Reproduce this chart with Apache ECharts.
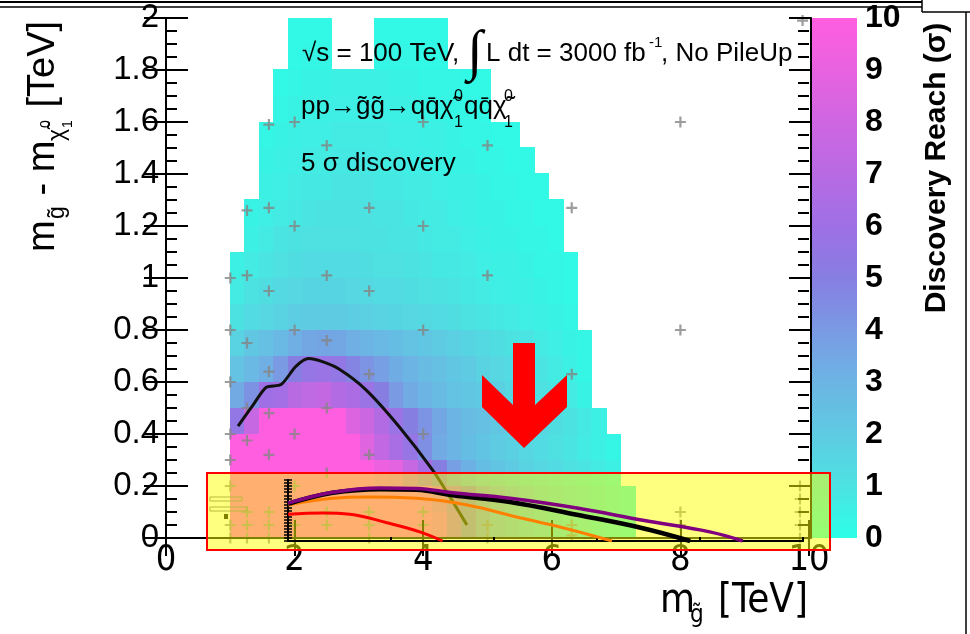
<!DOCTYPE html>
<html>
<head>
<meta charset="utf-8">
<script src="https://cdn.jsdelivr.net/npm/echarts@6/dist/echarts.min.js"></script>
<style>
  html, body { margin: 0; padding: 0; background: #fff; }
  #chart { width: 970px; height: 634px; }
</style>
</head>
<body>
<div id="chart"></div>
<script>
// histogram binning (TeV)
const binStartX = 1.0
const binWidthX = 0.225
const binHeightY = 0.1

// first filled x bin of each row, row 0 = 0.0-0.1 TeV
const rowFirstBin = [0, 0, 0, 0, 0, 0, 0, 0, 0, 0, 0, 1, 1, 2, 2, 2, 3, 3, 4, 4]

// discovery reach (sigma), one list per row, starting at rowFirstBin
const reachRows = [
  [10, 10, 10, 10, 10, 10, 10, 10, 10, 10, 10, 10, 10, 10, 9.0, 7.0, 5.0, 4.0, 3.2, 2.7, 2.3, 1.9, 1.6, 1.3, 1.1, 0.8, 0.6, 0.4],
  [10, 10, 10, 10, 10, 10, 10, 10, 10, 10, 10, 10, 10, 9.5, 8.5, 6.5, 5.0, 4.0, 3.3, 2.8, 2.4, 2.0, 1.7, 1.4, 1.2, 0.9, 0.7, 0.5],
  [10, 10, 10, 10, 10, 10, 10, 10, 10, 10, 9.2, 8.8, 7.6, 6.2, 5.0, 3.8, 3.1, 2.6, 2.3, 2.0, 1.7, 1.5, 1.3, 1.1, 0.9, 0.7, 0.5],
  [10, 10, 10, 10, 10, 10, 10, 10, 10, 8.6, 7.4, 6.4, 5.6, 4.4, 3.4, 3.0, 2.6, 2.3, 2.0, 1.8, 1.5, 1.3, 1.1, 0.9, 0.7, 0.5, 0.3],
  [5.5, 7.6, 10, 10, 10, 10, 10, 10, 8.5, 7.8, 6.8, 5.8, 5.0, 4.2, 3.5, 3.0, 2.7, 2.5, 2.2, 2.0, 1.7, 1.5, 1.2, 1.0, 0.8, 0.5],
  [3.4, 4.3, 6.0, 6.2, 7.0, 7.3, 7.5, 6.8, 6.5, 5.8, 5.0, 4.0, 3.4, 3.0, 2.7, 2.4, 2.2, 2.0, 1.8, 1.5, 1.3, 1.1, 0.9, 0.7, 0.4],
  [2.4, 2.8, 3.2, 4.0, 5.0, 5.6, 5.8, 5.5, 4.8, 4.2, 3.8, 3.3, 3.0, 2.7, 2.5, 2.2, 2.0, 1.7, 1.5, 1.3, 1.1, 0.9, 0.7, 0.5, 0.3],
  [1.7, 2.2, 2.5, 2.8, 3.2, 3.5, 3.6, 3.5, 3.2, 3.0, 2.8, 2.6, 2.4, 2.2, 2.0, 1.8, 1.6, 1.4, 1.2, 1.0, 0.9, 0.7, 0.6, 0.4, 0.3],
  [1.0, 1.3, 1.5, 1.7, 1.9, 2.0, 2.0, 2.0, 1.9, 1.8, 1.7, 1.6, 1.5, 1.4, 1.3, 1.2, 1.0, 0.9, 0.8, 0.7, 0.6, 0.5, 0.4, 0.3],
  [0.7, 1.0, 1.2, 1.4, 1.5, 1.6, 1.6, 1.6, 1.5, 1.4, 1.3, 1.3, 1.2, 1.1, 1.0, 0.9, 0.8, 0.7, 0.6, 0.5, 0.5, 0.4, 0.3, 0.2],
  [0.5, 0.7, 0.9, 1.1, 1.2, 1.3, 1.3, 1.3, 1.3, 1.2, 1.1, 1.1, 1.0, 0.9, 0.8, 0.8, 0.7, 0.6, 0.5, 0.5, 0.4, 0.3, 0.3, 0.2],
  [0.5, 0.7, 0.9, 1.0, 1.1, 1.1, 1.1, 1.1, 1.0, 1.0, 0.9, 0.9, 0.8, 0.7, 0.7, 0.6, 0.5, 0.4, 0.4, 0.3, 0.3, 0.2],
  [0.4, 0.6, 0.7, 0.8, 0.9, 1.0, 1.0, 1.0, 1.0, 0.9, 0.9, 0.8, 0.7, 0.7, 0.6, 0.5, 0.4, 0.4, 0.3, 0.3, 0.2, 0.2],
  [0.5, 0.6, 0.7, 0.8, 0.8, 0.9, 0.9, 0.9, 0.8, 0.8, 0.7, 0.7, 0.6, 0.5, 0.5, 0.4, 0.3, 0.3, 0.2, 0.2],
  [0.4, 0.5, 0.6, 0.7, 0.7, 0.8, 0.8, 0.8, 0.7, 0.7, 0.6, 0.6, 0.5, 0.4, 0.4, 0.3, 0.3, 0.2, 0.2],
  [0.3, 0.4, 0.5, 0.6, 0.6, 0.7, 0.7, 0.7, 0.7, 0.6, 0.6, 0.5, 0.5, 0.4, 0.3, 0.3, 0.2, 0.2],
  [0.3, 0.4, 0.5, 0.5, 0.6, 0.6, 0.6, 0.6, 0.5, 0.5, 0.4, 0.4, 0.3, 0.3, 0.2],
  [0.2, 0.3, 0.4, 0.4, 0.5, 0.5, 0.5, 0.5, 0.4, 0.4, 0.3, 0.3, 0.3, 0.2, 0.2],
  [0.2, 0.3, 0.3, null, null, null, 0.3, 0.3, 0.3, 0.2, 0.2],
  [0.2, 0.2, 0.2, null, null, null, 0.2, 0.2, 0.2, 0.2, 0.2]
]

// colour scale 0..10 sigma
const reachPalette = ['#2affe6', '#4de2e2', '#5ecbe2', '#6cb4e4', '#7a9ae4', '#877ee2', '#9f70e5', '#b86ae3', '#cf66e1', '#e862e0', '#ff5ee0']

// 5 sigma contour
const contourX = [1.12, 1.35, 1.56, 1.79, 2.02, 2.22, 2.41, 2.69, 3.11, 3.62, 4.15, 4.46, 4.68]
const contourY = [0.43, 0.51, 0.58, 0.59, 0.66, 0.69, 0.68, 0.65, 0.57, 0.43, 0.26, 0.14, 0.05]

// simulated signal points (grey crosses)
const pointX = [1.6, 2.0, 4.0, 8.0, 2.5, 5.0, 1.26, 1.6, 3.16, 6.31, 2.0, 4.0, 1.0, 1.26, 2.5, 5.0, 1.6, 3.16,
  1.0, 2.0, 4.0, 8.0, 1.26, 2.5, 1.6, 3.16, 6.31, 1.0, 1.26, 2.5, 1.6, 1.0, 2.0, 4.0, 1.26, 1.6, 1.0, 3.16, 2.5,
  1.0, 1.0, 1.0, 1.26, 1.26, 1.26, 1.6, 1.6, 1.6, 2.0, 2.0, 2.0, 2.5, 2.5, 3.16, 3.16, 3.16, 4.0, 4.0, 4.0,
  5.0, 5.0, 6.31, 6.31, 8.0, 8.0, 9.86, 9.86, 9.86, 9.86, 9.86, 9.9]
const pointY = [1.59, 1.6, 1.6, 1.6, 1.51, 1.51, 1.26, 1.27, 1.27, 1.27, 1.2, 1.2, 1.0, 1.01, 1.01, 1.01, 0.95, 0.95,
  0.8, 0.8, 0.8, 0.8, 0.75, 0.76, 0.64, 0.63, 0.63, 0.6, 0.5, 0.5, 0.48, 0.4, 0.4, 0.4, 0.375, 0.32, 0.3, 0.32, 0.25,
  0.2, 0.05, 0.0, 0.1, 0.05, 0.0, 0.1, 0.05, 0.0, 0.2, 0.05, 0.0, 0.1, 0.05, 0.1, 0.05, 0.0, 0.1, 0.05, 0.0,
  0.05, 0.0, 0.05, 0.01, 0.1, 0.05, 0.2, 0.15, 0.1, 0.05, 0.0, 1.99]

// inset curves (inset units)
const insetPurpleX = [0, 0.87, 1.79, 2.5, 3.2, 4.31, 5.61, 6.89, 8.19, 8.83]
const insetPurpleY = [0.62, 0.8, 0.87, 0.86, 0.79, 0.7, 0.54, 0.34, 0.15, 0]
const insetBlackX = [0, 0.87, 1.79, 2.5, 3.2, 4.31, 5.61, 6.89, 7.81]
const insetBlackY = [0.61, 0.79, 0.85, 0.84, 0.75, 0.64, 0.43, 0.21, 0]
const insetOrangeX = [0, 0.87, 1.53, 2.5, 3.48, 4.5, 5.28, 6.29]
const insetOrangeY = [0.59, 0.7, 0.72, 0.7, 0.59, 0.38, 0.23, 0]
const insetRedX = [0, 0.68, 1.2, 1.92, 2.56, 3.0]
const insetRedY = [0.44, 0.46, 0.44, 0.3, 0.15, 0]

const pairs = (xs, ys) => xs.map((x, i) => [x, ys[i]])

const reachCells = []
reachRows.forEach((row, j) => {
  row.forEach((v, k) => {
    if (v === null) return
    reachCells.push([binStartX + (rowFirstBin[j] + k) * binWidthX, j * binHeightY, v])
  })
})

const FONT = "'Liberation Sans', Arial, sans-serif"
const NARROW = "'Liberation Sans Narrow', 'DejaVu Sans Condensed', 'Liberation Sans', sans-serif"
const plusPath = 'path://M4,0H6V4H10V6H6V10H4V6H0V4H4Z'

function renderCell(params, api) {
  const x0 = api.value(0)
  const y0 = api.value(1)
  const p0 = api.coord([x0, y0])
  const p1 = api.coord([x0 + binWidthX, y0 + binHeightY])
  const left = Math.floor(p0[0])
  const right = Math.ceil(p1[0])
  const top = Math.floor(p1[1])
  const bottom = Math.ceil(p0[1])
  return {
    type: 'rect',
    shape: { x: left, y: top, width: right - left, height: bottom - top },
    style: { fill: api.visual('color') }
  }
}

function renderColorBar(params, api) {
  const p0 = api.coord([0, api.value(0)])
  const p1 = api.coord([1, api.value(1)])
  return {
    type: 'rect',
    shape: { x: p0[0], y: p1[1], width: p1[0] - p0[0], height: p0[1] - p1[1] },
    style: {
      fill: new echarts.graphic.LinearGradient(0, 1, 0, 0,
        reachPalette.map((c, i) => ({ offset: i / (reachPalette.length - 1), color: c })))
    }
  }
}

const blackLine = { lineStyle: { color: '#000', width: 2 } }
const fmtY = v => String(Math.round(v * 10) / 10)

// tick-only axis (used for the minor ticks, which have to point inwards too)
function tickAxis(grid, pos, min, max, step, len, width, z) {
  return {
    gridIndex: grid, type: 'value', position: pos, min: min, max: max, interval: step, z: z,
    axisLine: { show: false },
    axisTick: { inside: true, length: len, lineStyle: { color: '#000', width: width } },
    axisLabel: { show: false },
    splitLine: { show: false }
  }
}

const chart = echarts.init(document.getElementById('chart'))

chart.setOption({
  animation: false,
  backgroundColor: '#fff',
  grid: [
    { left: 166, top: 18, width: 643, height: 520 },  // main plot
    { left: 811, top: 18, width: 46, height: 520 },   // colour bar
    { left: 288, top: 480, width: 515, height: 61 }   // small inset
  ],
  visualMap: {
    type: 'continuous',
    show: false,
    seriesIndex: 0,
    dimension: 2,
    min: 0,
    max: 10,
    inRange: { color: reachPalette }
  },
  xAxis: [
    {
      gridIndex: 0, type: 'value', min: 0, max: 10, interval: 2, z: 5,
      axisLine: blackLine,
      axisTick: { inside: true, length: 18, lineStyle: { color: '#000', width: 2 } },
      axisLabel: { color: '#000', fontSize: 36, fontFamily: NARROW, margin: 5 },
      splitLine: { show: false }
    },
    {
      gridIndex: 0, type: 'value', position: 'top', min: 0, max: 10, interval: 2, z: 5,
      axisLine: blackLine,
      axisTick: { inside: true, length: 18, lineStyle: { color: '#000', width: 2 } },
      axisLabel: { show: false },
      splitLine: { show: false }
    },
    { gridIndex: 1, type: 'value', min: 0, max: 1, show: false },
    {
      gridIndex: 2, type: 'value', min: 0, max: 10, interval: 2, z: 30,
      axisLine: blackLine,
      axisTick: { inside: true, length: 4, lineStyle: { color: '#000', width: 2 } },
      axisLabel: { show: false },
      splitLine: { show: false }
    },
    {
      gridIndex: 2, type: 'value', position: 'top', min: 0, max: 10, z: 30,
      axisLine: blackLine,
      axisTick: { show: false },
      axisLabel: { show: false },
      splitLine: { show: false }
    }
  ],
  yAxis: [
    {
      gridIndex: 0, type: 'value', position: 'left', min: 0, max: 2, interval: 0.2, z: 5,
      axisLine: blackLine,
      axisTick: { inside: true, length: 22, lineStyle: { color: '#000', width: 2 } },
      axisLabel: { color: '#000', fontSize: 33, fontFamily: FONT, margin: 7, formatter: fmtY },
      splitLine: { show: false }
    },
    {
      gridIndex: 0, type: 'value', position: 'right', min: 0, max: 2, interval: 0.2, z: 5,
      axisLine: blackLine,
      axisTick: { inside: true, length: 22, lineStyle: { color: '#000', width: 2 } },
      axisLabel: { show: false },
      splitLine: { show: false }
    },
    tickAxis(0, 'left', 0, 2, 0.05, 11, 2, 5),
    tickAxis(0, 'right', 0, 2, 0.05, 11, 2, 5),
    {
      gridIndex: 1, type: 'value', position: 'right', min: 0, max: 10, interval: 1, z: 5,
      axisLine: blackLine,
      axisTick: { inside: true, length: 22, lineStyle: { color: '#000', width: 2 } },
      axisLabel: { color: '#000', fontSize: 32, fontWeight: 'bold', fontFamily: FONT, margin: 8 },
      splitLine: { show: false }
    },
    {
      gridIndex: 2, type: 'value', position: 'left', min: 0, max: 1, interval: 0.05, z: 30,
      axisLine: blackLine,
      axisTick: { inside: true, length: 4, lineStyle: { color: '#000', width: 1.5 } },
      axisLabel: { show: false },
      splitLine: { show: false }
    },
    {
      gridIndex: 2, type: 'value', position: 'right', min: 0, max: 1, interval: 0.05, z: 30,
      axisLine: blackLine,
      axisTick: { inside: true, length: 4, lineStyle: { color: '#000', width: 1.5 } },
      axisLabel: { show: false },
      splitLine: { show: false }
    }
  ],
  series: [
    {
      type: 'custom', name: 'reach', xAxisIndex: 0, yAxisIndex: 0, z: 1,
      renderItem: renderCell, encode: { x: 0, y: 1 }, data: reachCells
    },
    {
      type: 'custom', name: 'colorbar', xAxisIndex: 2, yAxisIndex: 4, z: 1,
      renderItem: renderColorBar, data: [[0, 10]]
    },
    {
      type: 'scatter', name: 'points', xAxisIndex: 0, yAxisIndex: 0, z: 2,
      symbol: plusPath, symbolSize: 11, clip: false,
      itemStyle: { color: '#858585' },
      data: pairs(pointX, pointY)
    },
    {
      type: 'line', name: '5 sigma', xAxisIndex: 0, yAxisIndex: 0, z: 3,
      smooth: 0.25, symbol: 'none',
      lineStyle: { color: '#111', width: 3 },
      data: pairs(contourX, contourY)
    },
    {
      type: 'line', xAxisIndex: 3, yAxisIndex: 5, z: 30, smooth: 0.4, symbol: 'none',
      lineStyle: { color: '#ff0000', width: 3 }, data: pairs(insetRedX, insetRedY)
    },
    {
      type: 'line', xAxisIndex: 3, yAxisIndex: 5, z: 30, smooth: 0.4, symbol: 'none',
      lineStyle: { color: '#ff8000', width: 3 }, data: pairs(insetOrangeX, insetOrangeY)
    },
    {
      type: 'line', xAxisIndex: 3, yAxisIndex: 5, z: 30, smooth: 0.4, symbol: 'none',
      lineStyle: { color: '#000', width: 4.5 }, data: pairs(insetBlackX, insetBlackY)
    },
    {
      type: 'line', xAxisIndex: 3, yAxisIndex: 5, z: 31, smooth: 0.4, symbol: 'none',
      lineStyle: { color: '#800080', width: 3.5 }, data: pairs(insetPurpleX, insetPurpleY)
    }
  ],
  graphic: [
    // slide frame leftovers
    { type: 'line', z: 40, shape: { x1: 0, y1: 2, x2: 922, y2: 2 }, style: { stroke: '#000', lineWidth: 2 } },
    { type: 'line', z: 40, shape: { x1: 0, y1: 7, x2: 922, y2: 7 }, style: { stroke: '#000', lineWidth: 1.5 } },
    { type: 'line', z: 40, shape: { x1: 922, y1: 0, x2: 922, y2: 12 }, style: { stroke: '#000', lineWidth: 1.5 } },
    { type: 'line', z: 40, shape: { x1: 922, y1: 12, x2: 970, y2: 12 }, style: { stroke: '#000', lineWidth: 1.5 } },
    { type: 'line', z: 40, shape: { x1: 966, y1: 12, x2: 966, y2: 634 }, style: { stroke: '#000', lineWidth: 1.5 } },

    // red down arrow
    {
      type: 'polygon', z: 8,
      shape: { points: [[513, 343], [535, 343], [535, 405], [567, 375], [567, 407], [524, 448], [482, 407], [482, 375], [513, 405]] },
      style: { fill: '#ff0000' }
    },

    // little legend boxes under the highlight
    { type: 'rect', z: 8, shape: { x: 210, y: 497, width: 32, height: 4 }, style: { fill: 'none', stroke: '#777', lineWidth: 1 } },
    { type: 'rect', z: 8, shape: { x: 210, y: 507, width: 37, height: 4 }, style: { fill: 'none', stroke: '#777', lineWidth: 1 } },
    { type: 'rect', z: 8, shape: { x: 224, y: 514, width: 4, height: 5 }, style: { fill: '#000' } },

    // yellow highlight box
    {
      type: 'rect', z: 20,
      shape: { x: 207, y: 473, width: 623, height: 77 },
      style: { fill: 'rgba(255,255,0,0.5)', stroke: '#ff0000', lineWidth: 2 }
    },

    // annotations
    { type: 'text', z: 9, x: 302, y: 67, style: { text: '√s = 100 TeV,', fontSize: 26, fontFamily: FONT, fill: '#000', verticalAlign: 'bottom' } },
    { type: 'text', z: 9, x: 467, y: 82, style: { text: '∫', fontSize: 56, fontFamily: "'Liberation Serif', 'DejaVu Serif', serif", fill: '#000', verticalAlign: 'bottom' } },
    { type: 'text', z: 9, x: 486, y: 67, style: { text: 'L dt = 3000 fb', fontSize: 26, fontFamily: FONT, fill: '#000', verticalAlign: 'bottom' } },
    { type: 'text', z: 9, x: 649, y: 50, style: { text: '-1', fontSize: 15, fontFamily: FONT, fill: '#000', verticalAlign: 'bottom' } },
    { type: 'text', z: 9, x: 661, y: 67, style: { text: ', No PileUp', fontSize: 26, fontFamily: FONT, fill: '#000', verticalAlign: 'bottom' } },

    { type: 'text', z: 9, x: 301, y: 120, style: { text: 'pp→g̃g̃→qq̄χ̃', fontSize: 26, fontFamily: FONT, fill: '#000', verticalAlign: 'bottom' } },
    { type: 'text', z: 9, x: 454, y: 105, style: { text: '0', fontSize: 16, fontFamily: FONT, fill: '#000', verticalAlign: 'bottom' } },
    { type: 'text', z: 9, x: 454, y: 131, style: { text: '1', fontSize: 16, fontFamily: FONT, fill: '#000', verticalAlign: 'bottom' } },
    { type: 'text', z: 9, x: 464, y: 120, style: { text: 'qq̄χ̃', fontSize: 26, fontFamily: FONT, fill: '#000', verticalAlign: 'bottom' } },
    { type: 'text', z: 9, x: 504, y: 105, style: { text: '0', fontSize: 16, fontFamily: FONT, fill: '#000', verticalAlign: 'bottom' } },
    { type: 'text', z: 9, x: 504, y: 131, style: { text: '1', fontSize: 16, fontFamily: FONT, fill: '#000', verticalAlign: 'bottom' } },

    { type: 'text', z: 9, x: 301, y: 177, style: { text: '5 σ discovery', fontSize: 26, fontFamily: FONT, fill: '#000', verticalAlign: 'bottom' } },

    // y axis title (rotated)
    {
      type: 'group', x: 44, y: 252, rotation: Math.PI / 2, z: 9,
      children: [
        { type: 'text', x: 0, y: 0, style: { text: 'm', fontSize: 38, fontFamily: FONT, fill: '#000', verticalAlign: 'middle' } },
        { type: 'text', x: 33, y: 14, style: { text: 'g̃', fontSize: 23, fontFamily: FONT, fill: '#000', verticalAlign: 'middle' } },
        { type: 'text', x: 46, y: 0, style: { text: ' - m', fontSize: 38, fontFamily: FONT, fill: '#000', verticalAlign: 'middle' } },
        { type: 'text', x: 111, y: 14, style: { text: 'χ̃', fontSize: 23, fontFamily: FONT, fill: '#000', verticalAlign: 'middle' } },
        { type: 'text', x: 124, y: 2, style: { text: '0', fontSize: 14, fontFamily: FONT, fill: '#000', verticalAlign: 'middle' } },
        { type: 'text', x: 124, y: 24, style: { text: '1', fontSize: 14, fontFamily: FONT, fill: '#000', verticalAlign: 'middle' } },
        { type: 'text', x: 134, y: 0, style: { text: ' [TeV]', fontSize: 38, fontFamily: FONT, fill: '#000', verticalAlign: 'middle' } }
      ]
    },

    // x axis title
    { type: 'text', z: 9, x: 660, y: 602, style: { text: 'm', fontSize: 40, fontFamily: NARROW, fill: '#000', verticalAlign: 'middle' } },
    { type: 'text', z: 9, x: 690, y: 616, style: { text: 'g̃', fontSize: 24, fontFamily: NARROW, fill: '#000', verticalAlign: 'middle' } },
    { type: 'text', z: 9, x: 808, y: 602, style: { text: '[TeV]', fontSize: 40, fontFamily: NARROW, fill: '#000', align: 'right', verticalAlign: 'middle' } },

    // colour bar title
    {
      type: 'text', z: 9, x: 937, y: 168, rotation: Math.PI / 2,
      style: { text: 'Discovery Reach (σ)', fontSize: 30, fontWeight: 'bold', fontFamily: FONT, fill: '#000', align: 'center', verticalAlign: 'middle' }
    }
  ]
})
</script>
</body>
</html>
